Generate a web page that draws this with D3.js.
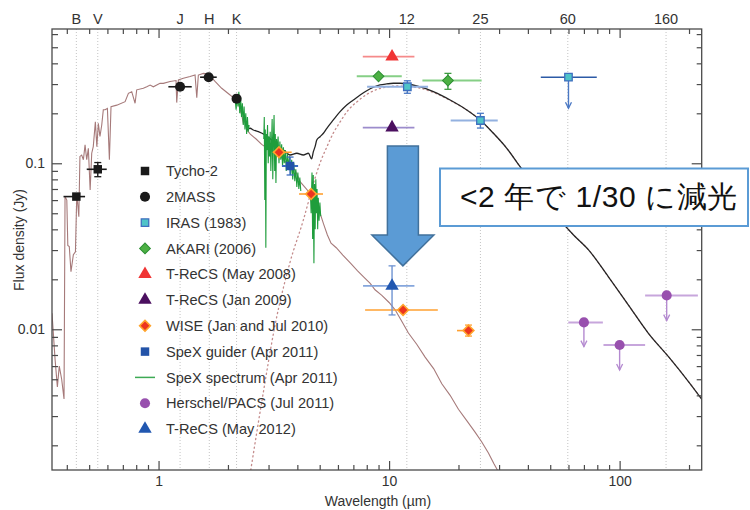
<!DOCTYPE html>
<html><head><meta charset="utf-8">
<script src="https://cdn.jsdelivr.net/npm/d3@7"></script>
<style>
body{margin:0;background:#fff}
svg{display:block}
text{font-family:"Liberation Sans",Arial,Helvetica,sans-serif}
</style>
</head><body>
<svg id="c" width="750" height="510"></svg>
<script>
// ---------------- DATA ----------------
const bandLabels = ["B","V","J","H","K","12","25","60","160"];
const bandWl     = [0.44,0.545,1.24,1.66,2.18,11.94,24.9,59.6,159];

const xMajor = [1,10,100];
const xMinor = [0.4,0.5,0.6,0.7,0.8,0.9,2,3,4,5,6,7,8,9,20,30,40,50,60,70,80,90,200];
const yMajor = [0.01,0.1];
const yMinor = [0.002,0.003,0.004,0.005,0.006,0.007,0.008,0.009,0.02,0.03,0.04,0.05,0.06,0.07,0.08,0.09,0.2,0.3,0.4,0.5,0.6];

const tycho = [
  {w:0.44, f:0.063, w0:0.387, w1:0.48},
  {w:0.545,f:0.092, w0:0.488, w1:0.596, f0:0.083, f1:0.101}
];
const twomass = [
  {w:1.24, f:0.289, w0:1.103, w1:1.393},
  {w:1.65, f:0.330, w0:1.514, w1:1.788},
  {w:2.18, f:0.245, w0:2.10,  w1:2.27}
];
const iras = [
  {w:12,   f:0.289, w0:8.03, w1:14.76, f0:0.264, f1:0.314},
  {w:24.9, f:0.181, w0:18.5, w1:29.6,  f0:0.163, f1:0.200},
  {w:60,   f:0.330, w0:45.5, w1:79.6,  lim:0.2145}
];
const akari = [
  {w:9,  f:0.334, w0:7.24,  w1:11.35},
  {w:18, f:0.315, w0:13.95, w1:25.2, f0:0.279, f1:0.348}
];
const trecs2008 = [{w:10.3, f:0.439, w0:7.69, w1:12.88}];
const trecs2009 = [{w:10.3, f:0.164, w0:7.69, w1:12.88}];
const wise = [
  {w:3.33, f:0.1165, w0:3.13, w1:3.78},
  {w:4.59, f:0.0653, w0:4.07, w1:5.17},
  {w:11.5, f:0.01306,w0:7.87, w1:16.27},
  {w:22.1, f:0.00982,w0:19.7, w1:22.85, f0:0.0091, f1:0.0106}
];
const spexGuider = [{w:3.72, f:0.0963, w0:3.43, w1:4.03, f0:0.085, f1:0.109}];
const pacs = [
  {w:70,  f:0.0110,  w0:59.9, w1:84.6,  lim:0.00786},
  {w:100, f:0.00804, w0:85.1, w1:129,   lim:0.00569},
  {w:160, f:0.0160,  w0:129,  w1:218.5, lim:0.01127}
];
const trecs2012 = [{w:10.3, f:0.01825, w0:7.71, w1:12.88, f0:0.0122, f1:0.0241}];

// stellar photosphere spectrum (brown)
const photosphere = [
[0.345,0.0125],[0.356,0.0065],[0.364,0.0045],[0.371,0.0060],[0.380,0.0050],[0.389,0.0038],
[0.393,0.063],[0.400,0.060],[0.404,0.032],[0.410,0.0315],[0.417,0.0222],[0.427,0.0281],
[0.436,0.0293],[0.442,0.066],[0.451,0.0476],[0.456,0.110],[0.464,0.112],[0.472,0.105],
[0.480,0.129],[0.488,0.105],[0.496,0.123],[0.505,0.069],[0.513,0.115],[0.521,0.126],
[0.532,0.178],[0.540,0.126],[0.548,0.174],[0.557,0.145],[0.567,0.170],[0.576,0.210],
[0.586,0.210],[0.600,0.214],[0.612,0.105],[0.622,0.219],[0.659,0.224],[0.716,0.235],
[0.740,0.264],[0.765,0.270],[0.791,0.230],[0.804,0.277],[0.859,0.283],[0.889,0.289],
[0.919,0.296],[0.949,0.289],[1.015,0.303],[1.049,0.303],[1.122,0.311],[1.191,0.315],
[1.199,0.232],[1.219,0.318],[1.281,0.325],[1.370,0.333],[1.440,0.340],[1.465,0.248],
[1.488,0.340],[1.565,0.348],[1.644,0.345],[1.758,0.311],[1.879,0.283],[2.043,0.258],
[2.147,0.243],[2.218,0.230],[2.296,0.195],[2.333,0.174],[2.373,0.182],[2.414,0.159],
[2.5,0.150],[2.65,0.140],[2.8,0.130],[3.0,0.122],[3.2,0.115],[3.33,0.113],[3.5,0.104],
[3.72,0.096],[3.91,0.091],[4.11,0.0775],[4.3,0.072],[4.54,0.066],[4.7,0.056],[4.86,0.059],
[5.02,0.050],[5.2,0.043],[5.4,0.037],[5.6,0.033],[5.9,0.031],[6.3,0.028],[6.8,0.025],
[7.3,0.0225],[7.75,0.0207],[8.28,0.0189],[8.69,0.0173],[9.3,0.0160],[10.0,0.0145],
[10.62,0.0131],[11.3,0.0113],[12.13,0.0095],[13.2,0.0081],[14.33,0.0068],[15.6,0.0058],
[16.93,0.0047],[18.4,0.0040],[19.99,0.0033],[21.8,0.0028],[23.6,0.0024],[25.2,0.0021],
[26.97,0.0018],[28.5,0.00155],[29.5,0.00142]
];

// star + dust model (black)
const totalModel = [
[2.414,0.159],[2.494,0.1625],[2.577,0.1587],[2.710,0.155],[2.897,0.148],[3.097,0.138],
[3.310,0.1259],[3.477,0.1203],[3.72,0.1122],[3.978,0.1149],[4.246,0.1122],[4.467,0.1149],
[4.611,0.1062],[4.694,0.1175],[4.775,0.1259],[4.856,0.138],[5.02,0.1446],[5.19,0.1516],
[5.37,0.1625],[5.73,0.1824],[6.13,0.2046],[6.55,0.2245],[7.00,0.2405],[7.49,0.2578],
[8.00,0.2737],[8.55,0.287],[9.14,0.2963],[9.77,0.3006],[10.44,0.3034],[11.16,0.3034],
[13.19,0.2922],[15.56,0.270],[18.40,0.2405],[21.73,0.2096],[24.83,0.1824],[28.35,0.1516],
[32.4,0.1231],[37.0,0.0954],[42.3,0.074],[48.3,0.0574],[55.2,0.0455],[63.1,0.037],
[73.3,0.0301],[89.4,0.0207],[109.2,0.014],[133.3,0.00946],[162.9,0.00684],[198.9,0.00484],
[227.4,0.00378]
];

// dust blackbody (dotted)
const dustModel = [
[2.512,0.00142],[2.812,0.00375],[3.202,0.0106],[3.72,0.0254],[4.247,0.0455],[4.775,0.0815],
[5.02,0.1005],[5.37,0.1254],[5.73,0.1522],[6.13,0.1774],[6.66,0.2096],[7.24,0.234],
[8.00,0.2598],[8.84,0.2783],[9.77,0.2881],[10.80,0.2922],[13.19,0.2862],[15.56,0.267],
[18.40,0.2388],[21.73,0.2096],[24.83,0.1824],[28.35,0.1516],[32.4,0.1231],[37.0,0.0954],
[42.3,0.074],[48.3,0.0574],[55.2,0.0455],[63.1,0.037],[73.3,0.0301],[89.4,0.0207],
[109.2,0.014],[133.3,0.00946],[162.9,0.00684],[198.9,0.00484],[227.4,0.00378]
];

// SpeX spectrum (green), null separates segments
const spexSpectrum = [
[2.15,0.24],[2.17,0.21],[2.19,0.26],[2.21,0.22],[2.23,0.27],[2.25,0.20],[2.27,0.25],[2.29,0.19],
[2.31,0.23],[2.33,0.17],[2.35,0.22],[2.37,0.16],[2.39,0.20],[2.41,0.15],[2.43,0.19],[2.45,0.155],[2.47,0.17],
null,
[2.86,0.14],[2.875,0.19],[2.89,0.06],[2.905,0.16],[2.92,0.031],[2.935,0.15],[2.95,0.12],[2.97,0.17],
[2.99,0.10],[3.01,0.145],[3.03,0.11],[3.05,0.155],[3.07,0.09],[3.09,0.13],[3.11,0.185],[3.13,0.08],
[3.15,0.14],[3.17,0.195],[3.19,0.09],[3.21,0.15],[3.23,0.076],[3.25,0.14],[3.27,0.115],[3.30,0.145],
[3.33,0.10],[3.36,0.135],[3.39,0.105],[3.42,0.13],[3.45,0.095],[3.48,0.125],[3.51,0.10],[3.55,0.12],
[3.58,0.09],[3.62,0.115],[3.66,0.095],[3.70,0.11],[3.74,0.085],[3.78,0.105],[3.82,0.08],[3.86,0.10],
[3.90,0.078],[3.94,0.092],[3.98,0.072],[4.02,0.088],[4.06,0.07],[4.10,0.082],[4.14,0.068],
null,
[4.55,0.07],[4.59,0.05],[4.63,0.088],[4.66,0.035],[4.69,0.085],[4.72,0.025],[4.75,0.075],[4.78,0.04],
[4.81,0.08],[4.84,0.05],[4.87,0.07],[4.90,0.04],[4.93,0.062],[4.97,0.045],[5.01,0.058],[5.05,0.048]
];

const legendLabels = ["Tycho-2","2MASS","IRAS (1983)","AKARI (2006)","T-ReCS (May 2008)","T-ReCS (Jan 2009)",
  "WISE (Jan and Jul 2010)","SpeX guider (Apr 2011)","SpeX spectrum (Apr 2011)","Herschel/PACS (Jul 2011)","T-ReCS (May 2012)"];

const calloutText = "<2 年で 1/30 に減光";

// ---------------- CHART ----------------
const L=52, R=701.7, T=29, B=470;
const svg = d3.select("#c");
const x = d3.scaleLog().domain([0.345,227]).range([L,R]);
const y = d3.scaleLog().domain([0.00142,0.644]).range([B,T]);

svg.append("defs").append("clipPath").attr("id","clip")
  .append("rect").attr("x",L).attr("y",T).attr("width",R-L).attr("height",B-T);

// band guide lines
svg.append("g").selectAll("line").data(bandWl).join("line")
  .attr("x1",d=>x(d)).attr("x2",d=>x(d)).attr("y1",T).attr("y2",B)
  .attr("stroke","#c4c4c4").attr("stroke-width",1).attr("stroke-dasharray","1,2");
svg.append("g").selectAll("text").data(bandLabels).join("text")
  .attr("x",(d,i)=>x(bandWl[i])).attr("y",24).attr("text-anchor","middle")
  .attr("font-size",14.5).attr("fill","#333").text(d=>d);

const plot = svg.append("g").attr("clip-path","url(#clip)");

plot.append("path").attr("d",d3.line().curve(d3.curveMonotoneX).x(d=>x(d[0])).y(d=>y(d[1]))(dustModel))
  .attr("fill","none").attr("stroke","#c48c8c").attr("stroke-width",1.3)
  .attr("stroke-dasharray","1.2,3.2").attr("stroke-linecap","round");
plot.append("path").attr("d",d3.line().x(d=>x(d[0])).y(d=>y(d[1]))(photosphere))
  .attr("fill","none").attr("stroke","#a67a7a").attr("stroke-width",1.1);
plot.append("path").attr("d",d3.line().curve(d3.curveMonotoneX).x(d=>x(d[0])).y(d=>y(d[1]))(totalModel))
  .attr("fill","none").attr("stroke","#262626").attr("stroke-width",1.3);
plot.append("path").attr("d",d3.line().defined(d=>d!==null).x(d=>x(d[0])).y(d=>y(d[1]))(spexSpectrum))
  .attr("fill","none").attr("stroke","#1f9d3c").attr("stroke-width",1.1);

// marker helper
function markerPath(shape){
  if(shape==="square") return d3.symbol(d3.symbolSquare,72)();
  if(shape==="smallsquare") return d3.symbol(d3.symbolSquare,56)();
  if(shape==="circle") return d3.symbol(d3.symbolCircle,80)();
  if(shape==="diamond") return d3.symbol(d3.symbolSquare,58)();
  if(shape==="triangle") return d3.symbol(d3.symbolTriangle,78)();
}
function drawMarker(g,shape,cx,cy,fill,stroke,sw){
  g.append("path").attr("d",markerPath(shape))
   .attr("transform",`translate(${cx},${cy})`+(shape==="diamond"?" rotate(45)":""))
   .attr("fill",fill).attr("stroke",stroke).attr("stroke-width",sw||0);
}

const series = [
  {data:tycho,     shape:"square",     fill:"#1a1a1a", stroke:"#1a1a1a", sw:0,   hbar:"#1a1a1a", vbar:"#1a1a1a", hw:1.6},
  {data:twomass,   shape:"circle",     fill:"#1a1a1a", stroke:"#1a1a1a", sw:0,   hbar:"#1a1a1a", vbar:"#1a1a1a", hw:1.6},
  {data:iras,      shape:"smallsquare",fill:"#4fc3c8", stroke:"#3f6fbf", sw:1.3, hbar:"#93b1e0", vbar:"#4a78c4", hw:2.2},
  {data:akari,     shape:"diamond",    fill:"#4cb043", stroke:"#2e8f35", sw:1,   hbar:"#86cf86", vbar:"#3b9a3f", hw:2},
  {data:trecs2008, shape:"triangle",   fill:"#f03434", stroke:"#f03434", sw:0,   hbar:"#f58a8a", vbar:"#f03434", hw:1.8},
  {data:trecs2009, shape:"triangle",   fill:"#4b0f5f", stroke:"#4b0f5f", sw:0,   hbar:"#9c8ccc", vbar:"#4b0f5f", hw:1.8},
  {data:wise,      shape:"diamond",    fill:"#ec3420", stroke:"#ffa42c", sw:1.6, hbar:"#ffa030", vbar:"#ffa030", hw:1.6},
  {data:spexGuider,shape:"square",     fill:"#2353a8", stroke:"#2353a8", sw:0,   hbar:"#3c6cc0", vbar:"#3c6cc0", hw:2},
  {data:pacs,      shape:"circle",     fill:"#9850ae", stroke:"#9850ae", sw:0,   hbar:"#c7a6dc", vbar:"#b48ad0", hw:2},
  {data:trecs2012, shape:"triangle",   fill:"#2157b0", stroke:"#2157b0", sw:0,   hbar:"#85a6dc", vbar:"#6f93d2", hw:1.8}
];
const marks = svg.append("g");
series.forEach(s=>{
  s.data.forEach(d=>{
    const cx=x(d.w), cy=y(d.f);
    const hb = (s.data===iras && d.lim) ? "#2c5aa6" : s.hbar;
    const hwid = (s.data===iras && d.lim) ? 1.5 : s.hw;
    if(d.w0) marks.append("line").attr("x1",x(d.w0)).attr("x2",x(d.w1)).attr("y1",cy).attr("y2",cy)
      .attr("stroke",hb).attr("stroke-width",hwid);
    if(d.f0){
      const vb=s.vbar;
      marks.append("line").attr("x1",cx).attr("x2",cx).attr("y1",y(d.f0)).attr("y2",y(d.f1)).attr("stroke",vb).attr("stroke-width",1.4);
      [d.f0,d.f1].forEach(v=>marks.append("line").attr("x1",cx-3.5).attr("x2",cx+3.5).attr("y1",y(v)).attr("y2",y(v)).attr("stroke",vb).attr("stroke-width",1.3));
    }
    if(d.lim){
      const lc = (s.data===iras) ? "#4a78c4" : s.vbar;
      const ly=y(d.lim);
      marks.append("line").attr("x1",cx).attr("x2",cx).attr("y1",cy).attr("y2",ly).attr("stroke",lc).attr("stroke-width",1.4);
      marks.append("path").attr("d",`M${cx-3},${ly-6}L${cx},${ly}L${cx+3},${ly-6}`).attr("fill","none").attr("stroke",lc).attr("stroke-width",1.3);
    }
    drawMarker(marks,s.shape,cx,cy,s.fill,s.stroke,s.sw);
  });
});

// frame + axes
svg.append("rect").attr("x",L).attr("y",T).attr("width",R-L).attr("height",B-T)
  .attr("fill","none").attr("stroke","#4a4a4a").attr("stroke-width",1.3);

function styleAxis(g){ g.select(".domain").remove(); g.selectAll(".tick line").attr("stroke","#4a4a4a").attr("stroke-width",1.2);
  g.selectAll("text").attr("font-size",14).attr("fill","#333").attr("font-family","Liberation Sans, Arial, sans-serif"); }

svg.append("g").attr("transform",`translate(0,${B})`)
  .call(d3.axisBottom(x).tickValues(xMajor).tickSize(-9).tickPadding(6).tickFormat(d3.format("~g"))).call(styleAxis);
svg.append("g").attr("transform",`translate(0,${B})`)
  .call(d3.axisBottom(x).tickValues(xMinor).tickSize(-5).tickFormat("")).call(styleAxis);
svg.append("g").attr("transform",`translate(0,${T})`)
  .call(d3.axisTop(x).tickValues(xMajor).tickSize(-9).tickFormat("")).call(styleAxis);
svg.append("g").attr("transform",`translate(0,${T})`)
  .call(d3.axisTop(x).tickValues(xMinor).tickSize(-5).tickFormat("")).call(styleAxis);
svg.append("g").attr("transform",`translate(${L},0)`)
  .call(d3.axisLeft(y).tickValues(yMajor).tickSize(-10).tickPadding(7).tickFormat(d3.format("~g"))).call(styleAxis);
svg.append("g").attr("transform",`translate(${L},0)`)
  .call(d3.axisLeft(y).tickValues(yMinor).tickSize(-6).tickFormat("")).call(styleAxis);
svg.append("g").attr("transform",`translate(${R},0)`)
  .call(d3.axisRight(y).tickValues(yMajor).tickSize(-10).tickFormat("")).call(styleAxis);
svg.append("g").attr("transform",`translate(${R},0)`)
  .call(d3.axisRight(y).tickValues(yMinor).tickSize(-5).tickFormat("")).call(styleAxis);

svg.append("text").attr("x",378).attr("y",506).attr("text-anchor","middle")
  .attr("font-size",14).attr("fill","#333").text("Wavelength (µm)");
svg.append("text").attr("transform","translate(24,240) rotate(-90)").attr("text-anchor","middle")
  .attr("font-size",14).attr("fill","#333").text("Flux density (Jy)");

// legend
const lg = svg.append("g");
const legShapes = [
  {shape:"square",fill:"#1a1a1a",stroke:"#1a1a1a",sw:0},
  {shape:"circle",fill:"#1a1a1a",stroke:"#1a1a1a",sw:0},
  {shape:"smallsquare",fill:"#4fc3c8",stroke:"#3f6fbf",sw:1.3},
  {shape:"diamond",fill:"#4cb043",stroke:"#2e8f35",sw:1},
  {shape:"triangle",fill:"#f03434",stroke:"#f03434",sw:0},
  {shape:"triangle",fill:"#4b0f5f",stroke:"#4b0f5f",sw:0},
  {shape:"diamond",fill:"#ec3420",stroke:"#ffa42c",sw:1.6},
  {shape:"square",fill:"#2353a8",stroke:"#2353a8",sw:0},
  {shape:"line"},
  {shape:"circle",fill:"#9850ae",stroke:"#9850ae",sw:0},
  {shape:"triangle",fill:"#2157b0",stroke:"#2157b0",sw:0}
];
legendLabels.forEach((lab,i)=>{
  const yy = 171 + i*25.8;
  const s = legShapes[i];
  if(s.shape==="line") lg.append("line").attr("x1",135).attr("x2",155).attr("y1",yy).attr("y2",yy).attr("stroke","#3daa55").attr("stroke-width",1.5);
  else drawMarker(lg,s.shape,145,yy,s.fill,s.stroke,s.sw);
  lg.append("text").attr("x",166).attr("y",yy).attr("dy","0.35em").attr("font-size",14.6).attr("fill","#333").text(lab);
});

// annotation arrow (position from scales)
const aw = 11.48, aTop = 0.127, aBase = 0.037, aTip = 0.0241;
const ax = x(aw), ay0=y(aTop), ay1=y(aBase), ay2=y(aTip);
svg.append("path")
  .attr("d",`M${ax-15.5},${ay0}L${ax+15.5},${ay0}L${ax+15.5},${ay1}L${ax+31},${ay1}L${ax},${ay2}L${ax-31},${ay1}L${ax-15.5},${ay1}Z`)
  .attr("fill","#5b9bd5").attr("stroke","#41719c").attr("stroke-width",1.5);

// callout box
svg.append("rect").attr("x",440).attr("y",168.5).attr("width",308).attr("height",57.5)
  .attr("fill","#fff").attr("stroke","#5b9bd5").attr("stroke-width",2);
svg.append("text").attr("x",460).attr("y",207).attr("font-size",30).attr("letter-spacing","0.6")
  .attr("font-family","'Noto Sans CJK JP', sans-serif").attr("fill","#111").text(calloutText);
</script>
</body></html>
